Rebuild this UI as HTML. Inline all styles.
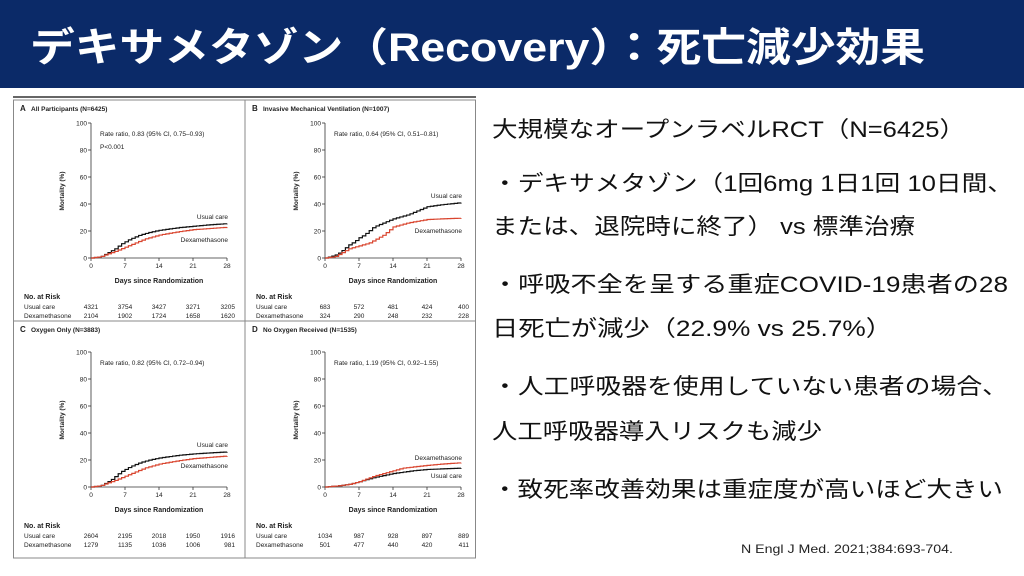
<!DOCTYPE html>
<html><head><meta charset="utf-8"><style>
html,body{margin:0;padding:0;background:#fff;}
svg{display:block;}
</style></head><body>
<svg id="s" width="1024" height="576" viewBox="0 0 1024 576" xmlns="http://www.w3.org/2000/svg" font-family="'Liberation Sans','Noto Sans CJK JP',sans-serif">
<rect x="0" y="0" width="1024" height="88" fill="#0b2a68"/>
<text x="30" y="61" font-size="40" font-weight="bold" fill="#fff" textLength="895" lengthAdjust="spacingAndGlyphs">デキサメタゾン（Recovery）：死亡減少効果</text>
<g font-size="22" fill="#111">
<text x="492" y="137" textLength="473" lengthAdjust="spacingAndGlyphs">大規模なオープンラベルRCT（N=6425）</text>
<text x="492" y="191" textLength="521" lengthAdjust="spacingAndGlyphs">・デキサメタゾン（1回6mg 1日1回 10日間、</text>
<text x="492" y="234" textLength="423" lengthAdjust="spacingAndGlyphs">または、退院時に終了） vs 標準治療</text>
<text x="492" y="292" textLength="516" lengthAdjust="spacingAndGlyphs">・呼吸不全を呈する重症COVID-19患者の28</text>
<text x="492" y="336" textLength="400" lengthAdjust="spacingAndGlyphs">日死亡が減少（22.9% vs 25.7%）</text>
<text x="492" y="394" textLength="516" lengthAdjust="spacingAndGlyphs">・人工呼吸器を使用していない患者の場合、</text>
<text x="492" y="439" textLength="330" lengthAdjust="spacingAndGlyphs">人工呼吸器導入リスクも減少</text>
<text x="492" y="497" textLength="511" lengthAdjust="spacingAndGlyphs">・致死率改善効果は重症度が高いほど大きい</text>
</g>
<text x="741" y="553" font-size="12" fill="#222" textLength="212" lengthAdjust="spacingAndGlyphs">N Engl J Med. 2021;384:693-704.</text>
<line x1="13" y1="97" x2="476" y2="97" stroke="#333" stroke-width="1.5"/>
<rect x="13.5" y="100" width="462" height="458" fill="none" stroke="#888" stroke-width="1"/>
<line x1="245" y1="100" x2="245" y2="558" stroke="#888"/>
<line x1="13" y1="321" x2="476" y2="321" stroke="#888"/>
<g id="g"></g>
</svg>
<script>
var g=document.getElementById('g'),h='';
function T(x,y,s,o){o=o||{};h+='<text x="'+x+'" y="'+y+'" font-size="'+(o.fs||6.5)+'"'+(o.b?' font-weight="bold"':'')+(o.a?' text-anchor="'+o.a+'"':'')+' fill="'+(o.c||'#222')+'">'+s+'</text>';}
function interp(pts,d){for(var i=1;i<pts.length;i++){if(d<=pts[i][0]){var a=pts[i-1],b=pts[i];return a[1]+(b[1]-a[1])*(d-a[0])/(b[0]-a[0]);}}return pts[pts.length-1][1];}
function panel(px,py,ox,oy,letter,title,rr,p,us,dx,labU,labD,risk){
 T(px+7,py+11,letter,{b:1,fs:8});T(px+18,py+11,title,{b:1,fs:6.5});
 var W=136,Hs=1.35;
 h+='<line x1="'+ox+'" y1="'+(oy-135)+'" x2="'+ox+'" y2="'+oy+'" stroke="#333" stroke-width="0.8"/>';
 h+='<line x1="'+ox+'" y1="'+oy+'" x2="'+(ox+W)+'" y2="'+oy+'" stroke="#333" stroke-width="0.8"/>';
 for(var v=0;v<=100;v+=20){var y=oy-v*Hs;h+='<line x1="'+(ox-3)+'" y1="'+y+'" x2="'+ox+'" y2="'+y+'" stroke="#333" stroke-width="0.8"/>';T(ox-4,y+2.3,v,{a:'end'});}
 [0,7,14,21,28].forEach(function(d){var x=ox+d*W/28;h+='<line x1="'+x+'" y1="'+oy+'" x2="'+x+'" y2="'+(oy+3)+'" stroke="#333" stroke-width="0.8"/>';T(x,oy+10,d,{a:'middle'});});
 T(ox+W/2,oy+25,'Days since Randomization',{b:1,a:'middle',fs:7});
 h+='<text transform="translate('+(ox-27)+','+(oy-67)+') rotate(-90)" font-size="6.5" font-weight="bold" text-anchor="middle" fill="#222">Mortality (%)</text>';
 T(ox+9,oy-122,rr);if(p)T(ox+9,oy-109,p);
 function line(pts,col){var d='M'+ox+','+oy,prev=0;for(var t=0.7;t<=28.01;t+=0.7){var v=interp(pts,t),x=ox+t*W/28;d+=' L'+x+','+(oy-prev*Hs)+' L'+x+','+(oy-v*Hs);prev=v;}h+='<path d="'+d+'" fill="none" stroke="'+col+'" stroke-width="1.2"/>';}
 line(us,'#111');line(dx,'#d9452f');
 T(ox+W+1,labU[1],'Usual care',{a:'end'});T(ox+W+1,labD[1],'Dexamethasone',{a:'end'});
 T(px+11,oy+41,'No. at Risk',{b:1,fs:7});
 T(px+11,oy+51,'Usual care');T(px+11,oy+60,'Dexamethasone');
 [0,7,14,21,28].forEach(function(d,i){var x=ox+d*W/28,a=i==4?'end':'middle';if(i==4)x+=8;T(x,oy+51,risk[0][i],{a:a});T(x,oy+60,risk[1][i],{a:a});});
}
var usA=[[0,0],[2,1],[3,3],[4,5],[5,7],[6,10],[7,12],[8,14],[10,17],[12,19],[14,20.5],[18,22.5],[21,23.5],[24,24.5],[28,25.5]];
var dxA=[[0,0],[2,1],[3,2.5],[5,5],[7,8],[9,11],[11,14],[14,17],[18,19.5],[21,21],[28,22.8]];
panel(13,100,91,258,'A','All Participants (N=6425)','Rate ratio, 0.83 (95% CI, 0.75–0.93)','P&lt;0.001',usA,dxA,[0,219],[0,242],[[4321,3754,3427,3271,3205],[2104,1902,1724,1658,1620]]);
panel(245,100,325,258,'B','Invasive Mechanical Ventilation (N=1007)','Rate ratio, 0.64 (95% CI, 0.51–0.81)','',
[[0,0],[2,2],[3,4],[4,7],[5,10],[6,12],[7,15],[8,17],[9,20],[10,23],[12,26],[14,29],[17,32],[19,35],[21,38],[24,39.5],[28,41]],
[[0,0],[2,1],[3,3],[4,5],[5,7],[7,9],[9,11],[11,15],[12,17],[13,20],[14,23],[17,26],[21,28.5],[24,29],[28,29.5]],[0,198],[0,233],[[683,572,481,424,400],[324,290,248,232,228]]);
panel(13,321,91,487,'C','Oxygen Only (N=3883)','Rate ratio, 0.82 (95% CI, 0.72–0.94)','',
[[0,0],[2,1],[3,3],[4,5],[5,8],[6,11],[7,13],[8,15],[10,18],[12,20],[14,21.5],[18,23.5],[21,24.5],[24,25.2],[28,26]],
[[0,0],[2,1],[3,2.5],[5,5],[7,8],[9,11],[11,14],[14,17],[18,19.5],[21,21],[28,23]],[0,447],[0,468],[[2604,2195,2018,1950,1916],[1279,1135,1036,1006,981]]);
panel(245,321,325,487,'D','No Oxygen Received (N=1535)','Rate ratio, 1.19 (95% CI, 0.92–1.55)','',
[[0,0],[3,1],[5,2],[7,4],[10,7],[14,10],[18,12],[21,13],[28,14]],
[[0,0],[3,1],[5,2],[7,4],[10,8],[12,10],[14,12],[16,14],[21,16],[24,17],[28,18]],[0,478],[0,460],[[1034,987,928,897,889],[501,477,440,420,411]]);
g.innerHTML=h;
</script>
</body></html>
